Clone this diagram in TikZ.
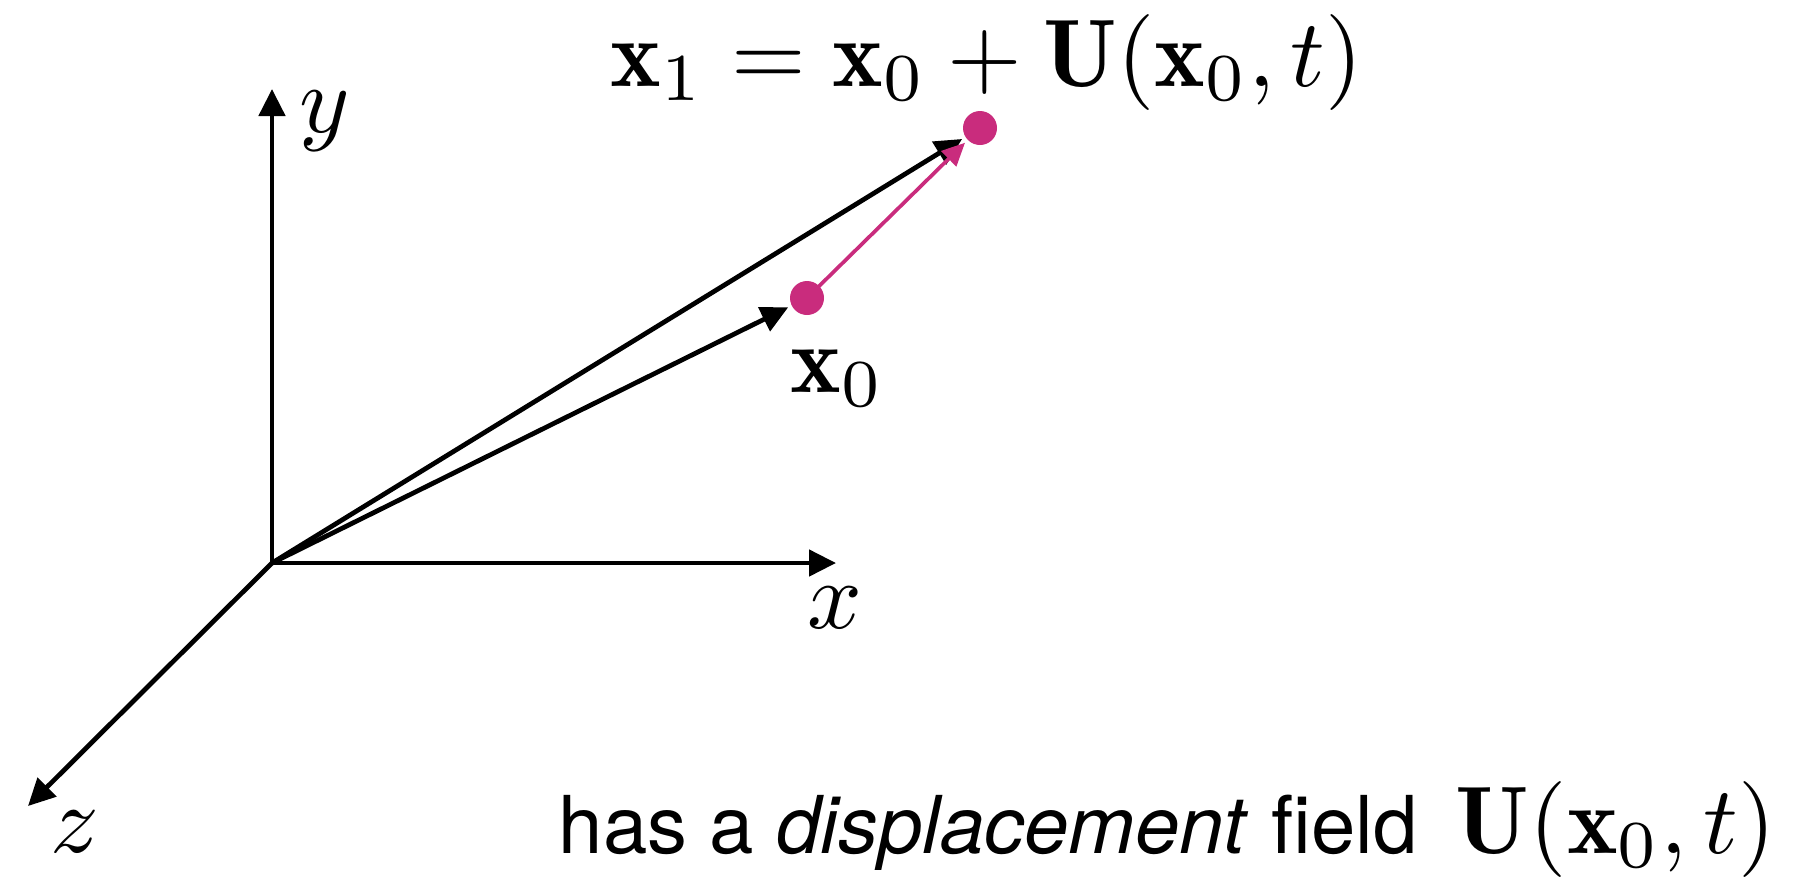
\documentclass[tikz,border=0pt]{standalone}
\usepackage{amsmath, amssymb}
\usepackage{graphicx}
\usepackage{fontspec}
\newfontfamily\helv{TeX Gyre Heros}
\usepackage{tikz}
\usetikzlibrary{arrows.meta, positioning, calc}
\definecolor{dotmagenta}{RGB}{201,44,125}
% math set at 10pt and blown up, as in the original slide
\newcommand{\mlbl}[1]{\scalebox{2.73}{$#1$}}

\begin{document}
\begin{tikzpicture}[
		axisline/.style={line width=1.35pt, -{Triangle[length=0.27cm, width=0.26cm]}},
		dispvec/.style={line width=1.05pt, dotmagenta, -{Triangle[length=0.23cm, width=0.21cm]}},
		dot/.style={circle, fill=dotmagenta, minimum size=0.34cm, inner sep=0pt, outer sep=0.04cm},
		mathlbl/.style={inner sep=0pt},
	]
	\useasboundingbox (0,0) rectangle (17.93,8.85);
	% axes
	\coordinate (O) at (2.72,3.22);
	\coordinate (ytip) at (2.72,7.96);
	\coordinate (xtip) at (8.36,3.22);
	\coordinate (ztip) at (0.28,0.79);
	\draw[axisline] (O) -- (ytip);
	\draw[axisline] (O) -- (xtip);
	\draw[axisline] (O) -- (ztip);
	\node[mathlbl, anchor=base] (ylab) at (3.25,7.53) {\mlbl{y}};
	\node[mathlbl, anchor=base] (xlab) at (8.35,2.57) {\mlbl{x}};
	\node[mathlbl, anchor=base] (zlab) at (0.75,0.33) {\mlbl{z}};
	% points and position vectors
	\node[dot] (x0pt) at (8.07,5.87) {};
	\node[dot] (x1pt) at (9.80,7.57) {};
	\draw[axisline] (O) -- (x0pt);
	\draw[axisline] (O) -- (x1pt);
	\draw[dispvec] (x0pt.center) -- (x1pt);
	\node[mathlbl, anchor=base west] (x0lab) at (7.90,4.93) {\mlbl{\mathbf{x}_0}};
	\node[mathlbl, anchor=base west] (eqn) at (6.10,7.99)
		{\mlbl{\mathbf{x}_1 = \mathbf{x}_0 + \mathbf{U}(\mathbf{x}_0, t)}};
	% caption line
	\node[inner sep=0pt, anchor=base west, font=\helv\fontsize{22.7}{27}\selectfont] (caption) at (5.58,0.32)
		{has a \textit{displacement} field};
	\node[mathlbl, anchor=base west] (capmath) at ($(caption.base east)+(0.37,0)$) {\mlbl{\mathbf{U}(\mathbf{x}_0, t)}};
\end{tikzpicture}
\end{document}
